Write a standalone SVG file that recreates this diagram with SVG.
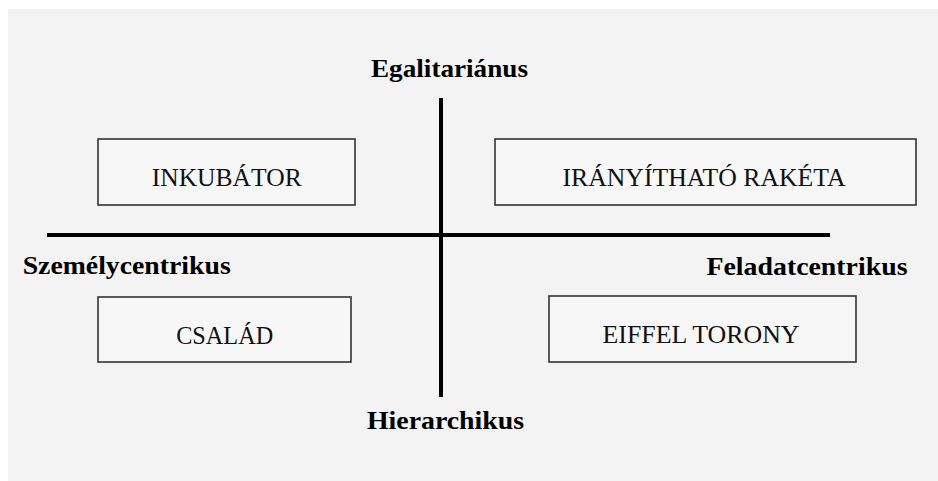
<svg xmlns="http://www.w3.org/2000/svg" width="938" height="481" viewBox="0 0 938 481">
<style>
.box{fill:#f7f7f7;stroke:#333333;stroke-width:1.6}
.lbl{font-family:"Liberation Serif","Times New Roman",serif;font-size:25px;fill:#111111;text-anchor:middle}
.axis{font-family:"Liberation Serif","Times New Roman",serif;font-size:26px;font-weight:bold;fill:#000000;text-anchor:middle}
.ax{stroke:#000000;stroke-width:4;fill:none}
</style>
<rect x="0" y="0" width="938" height="481" fill="#ffffff"/>
<rect x="8" y="9" width="930" height="472" fill="#f3f3f3"/>
<g id="connectors">
<line class="ax" x1="47" y1="235" x2="830" y2="235"/>
<line class="ax" x1="441" y1="98" x2="441" y2="397"/>
</g>
<g id="axis-top"><text class="axis" x="449.5" y="77" textLength="157" lengthAdjust="spacingAndGlyphs">Egalitariánus</text></g>
<g id="axis-bottom"><text class="axis" x="445.5" y="429" textLength="157" lengthAdjust="spacingAndGlyphs">Hierarchikus</text></g>
<g id="axis-left"><text class="axis" x="126.7" y="274" textLength="208" lengthAdjust="spacingAndGlyphs">Személycentrikus</text></g>
<g id="axis-right"><text class="axis" x="807" y="275" textLength="201" lengthAdjust="spacingAndGlyphs">Feladatcentrikus</text></g>
<g id="inkubator">
<rect class="box" x="98" y="139" width="257" height="66"/>
<text class="lbl" x="226.7" y="186" textLength="150" lengthAdjust="spacingAndGlyphs">INKUBÁTOR</text>
</g>
<g id="iranyithato-raketa">
<rect class="box" x="495" y="139" width="421" height="66"/>
<text class="lbl" x="704" y="186" textLength="283" lengthAdjust="spacingAndGlyphs">IRÁNYÍTHATÓ RAKÉTA</text>
</g>
<g id="csalad">
<rect class="box" x="98" y="297" width="253" height="65"/>
<text class="lbl" x="224.7" y="344" textLength="97" lengthAdjust="spacingAndGlyphs">CSALÁD</text>
</g>
<g id="eiffel-torony">
<rect class="box" x="549" y="296" width="307" height="66"/>
<text class="lbl" x="701" y="342.5" textLength="197" lengthAdjust="spacingAndGlyphs">EIFFEL TORONY</text>
</g>
</svg>
